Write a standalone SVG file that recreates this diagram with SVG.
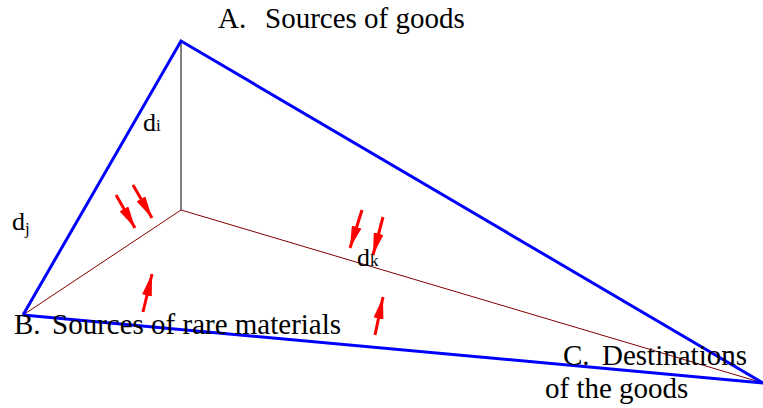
<svg xmlns="http://www.w3.org/2000/svg" width="763" height="408" viewBox="0 0 763 408">
<style>
.t{font-family:"Liberation Serif","Times New Roman",serif;font-size:29px;fill:#000}
.d{font-family:"Liberation Serif","Times New Roman",serif;font-size:26px;fill:#000}
.s{font-size:17px}
.blue{stroke:#0000ff;stroke-width:3;fill:none}
.brown{stroke:#800000;stroke-width:1;fill:none}
.arr{stroke:#ff0000;stroke-width:3;fill:none;marker-end:url(#ah)}
</style>
<defs>
<marker id="ah" viewBox="0 0 22 10" refX="22" refY="5" markerWidth="22" markerHeight="10" markerUnits="userSpaceOnUse" orient="auto">
<path d="M0,0 L22,5 L0,10 z" fill="#ff0000"/>
</marker>
</defs>
<rect width="763" height="408" fill="#fff"/>
<g id="connectors">
<line x1="181" y1="41" x2="181" y2="210" stroke="#000" stroke-width="1"/>
<line class="brown" x1="181" y1="210" x2="23" y2="315"/>
<line class="brown" x1="181" y1="210" x2="763" y2="383"/>
<polyline class="blue" points="23,315 181,41 763,383 23,315"/>
<line class="arr" x1="116" y1="195" x2="135" y2="228"/>
<line class="arr" x1="133" y1="185" x2="152" y2="218"/>
<line class="arr" x1="362" y1="210" x2="350" y2="248"/>
<line class="arr" x1="383" y1="217" x2="373" y2="255"/>
<line class="arr" x1="375" y1="335" x2="383" y2="297"/>
<line class="arr" x1="143" y1="312" x2="152" y2="274"/>
</g>
<g id="nodeA"><text class="t" x="218" y="28">A.</text><text class="t" x="265" y="28">Sources of goods</text></g>
<g id="nodeB"><text class="t" x="14" y="334">B.</text><text class="t" x="52" y="334">Sources of rare materials</text></g>
<g id="nodeC"><text class="t" x="563" y="365">C.</text><text class="t" x="602" y="365">Destinations</text><text class="t" x="545" y="398">of the goods</text></g>
<g id="labels">
<text class="d" x="143" y="131">d<tspan class="s">i</tspan></text>
<text class="d" x="12" y="230">d<tspan class="s" dy="4">j</tspan></text>
<text class="d" x="357" y="266">d<tspan class="s">k</tspan></text>
</g>
</svg>
